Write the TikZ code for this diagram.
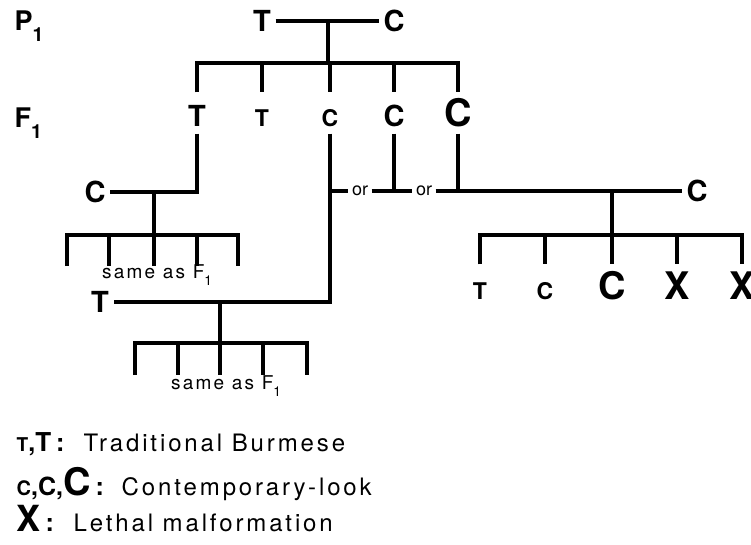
\documentclass[tikz,border=0pt]{standalone}
\usepackage{fontspec}
\setmainfont{TeX Gyre Heros}
\newfontfamily\spacedfont[LetterSpace=12]{TeX Gyre Heros}
\usetikzlibrary{calc}

\newcommand{\sz}[1]{\fontsize{#1}{#1}\selectfont}
\newcommand{\lowsub}[1]{\raisebox{-0.38em}{\scalebox{0.72}{#1}}}

\tikzset{
  gene/.style={anchor=base, inner xsep=0pt, inner ysep=5pt, text height=28pt, text depth=0pt},
  side/.style={inner xsep=3pt, inner ysep=0pt, font=\bfseries\sz{29}},
  szs/.style={font=\bfseries\sz{23}},
  szm/.style={font=\bfseries\sz{29}},
  szl/.style={font=\bfseries\sz{38}},
  genlabel/.style={anchor=base west, inner sep=0pt, font=\bfseries\sz{27}},
  ortext/.style={inner xsep=2pt, inner ysep=0pt, font=\sz{18}},
  same/.style={anchor=base, inner sep=0pt, font=\spacedfont\sz{19}},
  key/.style={anchor=base west, inner sep=0pt, font=\bfseries\sz{25}},
  desc/.style={anchor=base west, inner sep=0pt, font=\spacedfont\sz{24}}
}

\begin{document}
\begin{tikzpicture}[x=1pt,y=-1pt,line width=3.4pt]
	\useasboundingbox (0,0) rectangle (751,545);
	
	% generations
	\node[genlabel] (p1) at (13,31) {P\lowsub{1}};
	\node[genlabel] (f1) at (13,128) {F\lowsub{1}};
	
	% parents
	\node[side] (pt) at (262,21) {T};
	\node[side] (pc) at (394,21) {C};
	\draw (pt) -- (pc);
	\coordinate (pmid) at (328,21);
	\coordinate (pbar) at (328,63);
	\draw (pmid) -- (pbar);
	
	% F1 offspring
	\node[gene,szm] (ft1) at (197,127) {T};
	\node[gene,szs] (ft2) at (262,127) {T};
	\node[gene,szs] (fc1) at (330,127) {C};
	\node[gene,szm] (fc2) at (394,127) {C};
	\node[gene,szl] (fc3) at (458,127) {C};
	\draw (ft1.north) |- (pbar) -| (fc3.north);
	\foreach \n in {ft2,fc1,fc2}
		\draw (\n |- pbar) -- (\n.north);
	
	% T x C backcross
	\node[side] (lc) at (95,192) {C};
	\draw (ft1.south) |- (lc);
	\coordinate (lcj) at (154,192);
	\coordinate (lcbar) at (154,235);
	\draw (lcj) -- (lcbar);
	\foreach \x [count=\i] in {67,109,154,197,238}
		\coordinate (la\i) at (\x,266);
	\draw (la1) |- (lcbar) -| (la5);
	\foreach \i in {2,3,4}
		\draw (la\i |- lcbar) -- (la\i);
	\node[same] (ls1) at (157,278) {same as F\lowsub{1}};
	
	% c x T backcross
	\node[side] (lt) at (100,302) {T};
	\draw (fc1.south) |- (lt);
	\coordinate (ltj) at (220,302);
	\coordinate (ltbar) at (220,343);
	\draw (ltj) -- (ltbar);
	\foreach \x [count=\i] in {135,178,220,263,307}
		\coordinate (lb\i) at (\x,375);
	\draw (lb1) |- (ltbar) -| (lb5);
	\foreach \i in {2,3,4}
		\draw (lb\i |- ltbar) -- (lb\i);
	\node[same] (ls2) at (226,389) {same as F\lowsub{1}};
	
	% C x C cross
	\node[ortext] (or1) at (360,191) {or};
	\node[ortext] (or2) at (424,191) {or};
	\node[side] (rc) at (697,191) {C};
	\draw (fc1 |- or1) -- (or1);
	\draw (or1) -- (or2);
	\draw (fc2.south) -- (fc2 |- or1);
	\draw (or2) -- (rc);
	\draw (fc3.south) -- (fc3 |- or2);
	\coordinate (rj) at (612,191);
	\coordinate (rbar) at (612,235);
	\draw (rj) -- (rbar);
	\node[gene,szs] (rt) at (480,299) {T};
	\node[gene,szs] (rc1) at (545,299) {C};
	\node[gene,szl] (rc2) at (612,299) {C};
	\node[gene,szl] (rx1) at (677,299) {X};
	\node[gene,szl] (rx2) at (742,299) {X};
	\draw (rt.north) |- (rbar) -| (rx2.north);
	\foreach \n in {rc1,rc2,rx1}
		\draw (\n |- rbar) -- (\n.north);
	
	% legend
	\node[key] (k1) at (15,451) {{\sz{19}T},{\sz{26}T}\hspace{5pt}:};
	\node[desc] (d1) at (82,451) {Traditional Burmese};
	\node[key] (k2) at (15,495) {{\sz{20}C},{\sz{25}C},{\sz{38}C}\hspace{5pt}:};
	\node[desc] (d2) at (120,495) {Contemporary-look};
	\node[key] (k3) at (15,531) {{\sz{36}X}\hspace{5pt}:};
	\node[desc] (d3) at (72,531) {Lethal malformation};
\end{tikzpicture}
\end{document}
